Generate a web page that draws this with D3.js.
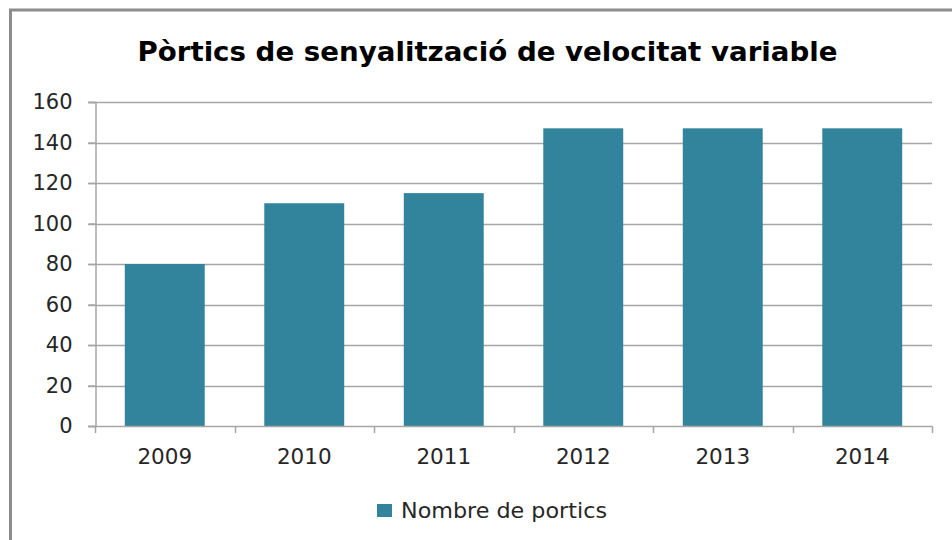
<!DOCTYPE html>
<html><head><meta charset="utf-8">
<script src="https://cdn.jsdelivr.net/npm/d3@7"></script>
<style>body{margin:0;background:#fff}svg{display:block}</style>
</head><body>
<script>
const categories = ["2009","2010","2011","2012","2013","2014"];
const values = [80, 110, 115, 147, 147, 147];
const yTicks = [0,20,40,60,80,100,120,140,160];
const title = "Pòrtics de senyalització de velocitat variable";
const seriesName = "Nombre de portics";

const W = 952, H = 540;
const FONT = "'DejaVu Sans', Verdana, sans-serif";
const svg = d3.select("body").append("svg").attr("width", W).attr("height", H);
svg.append("rect").attr("x",10.5).attr("y",10).attr("width",960).attr("height",560)
  .attr("fill","#fff").attr("stroke","#8c8c8c").attr("stroke-width",3);

const m = {left:95, right:932, top:102, bottom:426};
const x = d3.scaleBand().domain(categories).range([m.left, m.right]).paddingInner(0.427).paddingOuter(0.2135);
const y = d3.scaleLinear().domain([0,160]).range([m.bottom, m.top]);

// gridlines
svg.append("g").selectAll("line").data(yTicks.filter(d=>d>0)).join("line")
  .attr("x1", m.left-7).attr("x2", m.right).attr("y1", d=>Math.round(y(d))+0.5).attr("y2", d=>Math.round(y(d))+0.5)
  .attr("stroke","#a6a6a6").attr("stroke-width",1.5);

// y axis
const ya = svg.append("g").attr("transform",`translate(${m.left+0.5},0)`)
  .call(d3.axisLeft(y).tickValues(yTicks).tickSize(7).tickPadding(16));
ya.select(".domain").attr("stroke","#a6a6a6").attr("stroke-width",1.5);
ya.selectAll(".tick line").attr("stroke","#a6a6a6").attr("stroke-width",1.5);
ya.selectAll("text").attr("font-family",FONT).attr("font-size",21).attr("fill","#262626");

// bars
svg.append("g").selectAll("rect").data(values).join("rect")
  .attr("x",(d,i)=>x(categories[i])).attr("width",x.bandwidth())
  .attr("y",d=>y(d)).attr("height",d=>y(0)-y(d))
  .attr("fill","#31849b");

// x axis
const xa = svg.append("g").attr("transform",`translate(0,${m.bottom+0.5})`)
  .call(d3.axisBottom(x).tickSize(0).tickPadding(22));
xa.select(".domain").remove();
xa.selectAll("text").attr("font-family",FONT).attr("font-size",21.5).attr("fill","#262626");
svg.append("line").attr("x1",m.left-7).attr("x2",m.right).attr("y1",m.bottom+0.5).attr("y2",m.bottom+0.5)
  .attr("stroke","#a6a6a6").attr("stroke-width",1.5);
const boundaries = categories.map((c,i)=>m.left + i*x.step()).concat([m.right]);
svg.append("g").selectAll("line").data(boundaries).join("line")
  .attr("x1",d=>Math.round(d)+0.5).attr("x2",d=>Math.round(d)+0.5)
  .attr("y1",m.bottom).attr("y2",m.bottom+7).attr("stroke","#a6a6a6").attr("stroke-width",1.5);

// title
svg.append("text").attr("x",487.5).attr("y",61).attr("text-anchor","middle")
  .attr("font-family",FONT).attr("font-weight","bold").attr("font-size",26.5)
  .attr("textLength",700).attr("lengthAdjust","spacingAndGlyphs")
  .attr("fill","#000").text(title);

// legend
const lg = svg.append("g").attr("transform","translate(377,504)");
lg.append("rect").attr("width",15).attr("height",13).attr("fill","#31849b");
lg.append("text").attr("x",24).attr("y",14).attr("font-family",FONT)
  .attr("font-size",21).attr("textLength",206).attr("lengthAdjust","spacingAndGlyphs")
  .attr("fill","#262626").text(seriesName);
</script>
</body></html>
